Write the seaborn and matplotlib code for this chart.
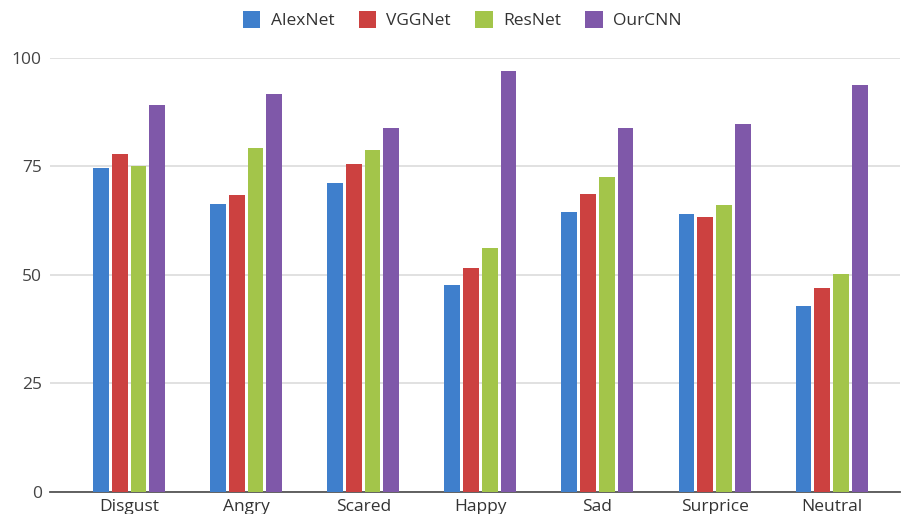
import matplotlib
matplotlib.use("Agg")
import matplotlib.pyplot as plt
import seaborn as sns
import pandas as pd

emotions = ["Disgust", "Angry", "Scared", "Happy", "Sad", "Surprice", "Neutral"]
models = ["AlexNet", "VGGNet", "ResNet", "OurCNN"]
alexnet = [74.6, 66.3, 71.1, 47.7, 64.4, 64.1, 42.8]
vggnet = [77.7, 68.3, 75.6, 51.5, 68.7, 63.4, 46.9]
resnet = [75.0, 79.2, 78.8, 56.1, 72.5, 66.0, 50.1]
ourcnn = [89.0, 91.7, 83.7, 96.9, 83.7, 84.8, 93.8]
y_ticks = [0, 25, 50, 75, 100]

palette = ["#3f7fcc", "#cc4140", "#a3c54a", "#7f58a9"]

rows = []
for model, vals in zip(models, [alexnet, vggnet, resnet, ourcnn]):
    for emo, v in zip(emotions, vals):
        rows.append({"Emotion": emo, "Model": model, "Accuracy": v})
df = pd.DataFrame(rows)

sns.set_theme(style="white")
plt.rcParams["font.family"] = ["Open Sans", "DejaVu Sans"]

fig = plt.figure(figsize=(9.02, 5.14), dpi=100)
ax = fig.add_axes([0.0554, 0.0434, 0.9426, 0.8443])

sns.barplot(data=df, x="Emotion", y="Accuracy", hue="Model", order=emotions,
            hue_order=models, palette=palette, width=0.64, gap=0.16,
            saturation=1, errorbar=None, linewidth=0, ax=ax, zorder=3)

ax.set_ylim(0, 100)
ax.set_xlim(-0.675, 6.585)
ax.set_yticks(y_ticks)
ax.set_yticklabels([str(t) for t in y_ticks])
ax.yaxis.grid(True, color="#dcdcdc", linewidth=1.2, zorder=0)
ax.set_axisbelow(True)
for side in ["top", "right", "left"]:
    ax.spines[side].set_visible(False)
ax.spines["bottom"].set_color("#555555")
ax.spines["bottom"].set_linewidth(1.3)
ax.tick_params(axis="y", length=0, pad=6, labelsize=12.5, labelcolor="#444444")
ax.tick_params(axis="x", length=0, pad=5, labelsize=12.5, labelcolor="#333333")
ax.set_xlabel("")
ax.set_ylabel("")

handles, labels = ax.get_legend_handles_labels()
ax.legend(handles, labels, loc="center", bbox_to_anchor=(0.485, 1.087), ncol=4,
          frameon=False, fontsize=12.5, handlelength=1.0, handleheight=1.1,
          handletextpad=0.6, columnspacing=1.4, labelcolor="#333333")

fig.savefig("out.png", dpi=100)
